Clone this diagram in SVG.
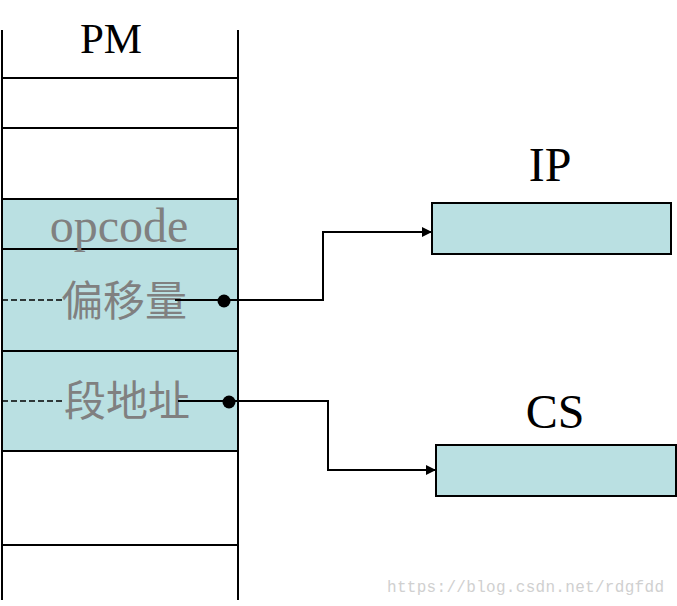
<svg xmlns="http://www.w3.org/2000/svg" width="677" height="606" viewBox="0 0 677 606">
<style>
.ln{stroke:#000;stroke-width:2;fill:none}
.cell{fill:#BAE0E2}
.lbl{font-family:"Liberation Serif","Times New Roman",serif;fill:#000;text-anchor:middle}
.gray{font-family:"Liberation Serif","Noto Sans CJK SC",serif;fill:#808080;text-anchor:middle}
.cjk{font-family:"Noto Sans CJK SC",sans-serif;fill:#808080;text-anchor:middle}
.box{fill:#BAE0E2;stroke:#000;stroke-width:2}
.dash{stroke:#000;stroke-width:1.6;stroke-dasharray:6,3}
</style>
<defs>
<marker id="arr" viewBox="0 0 10 10" refX="10" refY="5" markerWidth="12" markerHeight="10" markerUnits="userSpaceOnUse" orient="auto">
<path d="M0,0 L10,5 L0,10 z" fill="#000"/>
</marker>
</defs>
<rect width="677" height="606" fill="#fff"/>
<g id="pm">
<rect class="cell" x="2" y="199" width="236" height="50"/>
<rect class="cell" x="2" y="250" width="237" height="100"/>
<rect class="cell" x="2" y="351" width="237" height="100"/>
<line class="ln" x1="2" y1="30" x2="2" y2="600"/>
<line class="ln" x1="238" y1="30" x2="238" y2="600"/>
<line class="ln" x1="2" y1="78" x2="238" y2="78"/>
<line class="ln" x1="2" y1="128" x2="238" y2="128"/>
<line class="ln" x1="2" y1="199" x2="238" y2="199"/>
<line class="ln" x1="2" y1="249" x2="238" y2="249"/>
<line class="ln" x1="2" y1="351" x2="238" y2="351"/>
<line class="ln" x1="2" y1="451" x2="238" y2="451"/>
<line class="ln" x1="2" y1="545" x2="238" y2="545"/>
<text class="lbl" x="111" y="53" font-size="43">PM</text>
<text class="gray" x="119" y="242" font-size="48">opcode</text>
<text class="cjk" x="124" y="316" font-size="42">偏移量</text>
<text class="cjk" x="127" y="416" font-size="42">段地址</text>
</g>
<g id="ip">
<rect class="box" x="432" y="203" width="239" height="51"/>
<text class="lbl" x="550" y="181" font-size="48">IP</text>
</g>
<g id="cs">
<rect class="box" x="436" y="445" width="240" height="51"/>
<text class="lbl" x="555" y="428" font-size="48">CS</text>
</g>
<g id="connectors">
<line class="dash" x1="2" y1="300" x2="65" y2="300"/>
<line class="dash" x1="2" y1="401" x2="65" y2="401"/>
<polyline class="ln" points="175,300 323,300 323,232 432,232" marker-end="url(#arr)"/>
<polyline class="ln" points="178,401 328,401 328,470 436,470" marker-end="url(#arr)"/>
<circle cx="224" cy="301" r="6.5" fill="#000"/>
<circle cx="229" cy="402" r="6.5" fill="#000"/>
</g>
<text x="387" y="592" font-family="Liberation Mono,monospace" font-size="16" fill="#d0d0d0" textLength="277">https://blog.csdn.net/rdgfdd</text>
</svg>
